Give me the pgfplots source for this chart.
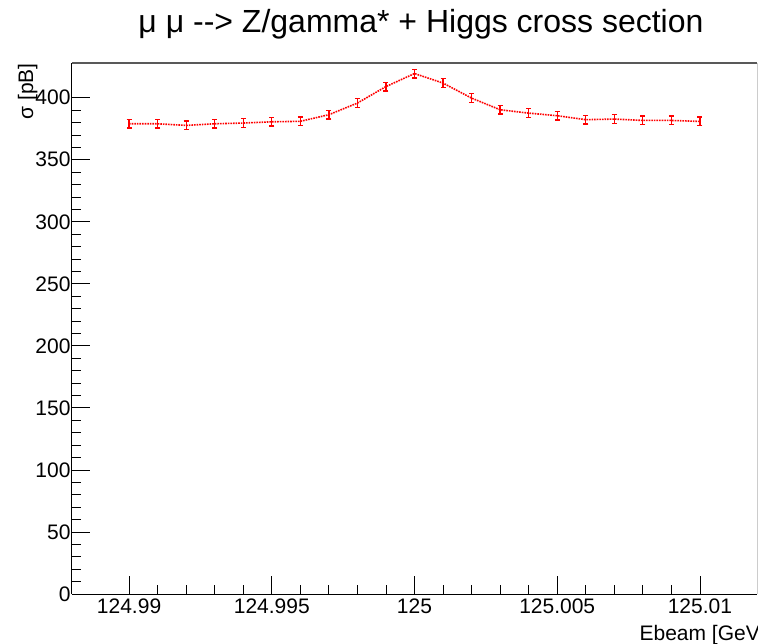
\documentclass[border=0pt]{standalone}
\usepackage{pgfplots}
\pgfplotsset{compat=1.18}
\usepackage{fontspec}
\setmainfont{Liberation Sans}
\begin{document}
\begin{tikzpicture}[x=1pt,y=1pt]
\useasboundingbox (0,0) rectangle (758,643);
\begin{axis}[
  at={(72pt,49pt)}, anchor=south west,
  scale only axis, width=685pt, height=531pt,
  xmin=-12, xmax=12, ymin=0, ymax=428,
  axis x line*=bottom, axis y line*=left,
  axis line style={black, line width=1pt},
  xtick={-10,-5,0,5,10},
  xticklabels={124.99,124.995,125,125.005,125.01},
  minor x tick num=4,
  ytick={0,50,100,150,200,250,300,350,400},
  minor y tick num=4,
  tick align=inside,
  major tick length=18pt, minor tick length=9pt,
  tick style={black, line width=0.8pt},
  /pgf/number format/assume math mode=true,
  ticklabel style={font=\fontsize{21}{24}\selectfont},
  xticklabel style={yshift=-1pt},
  yticklabel style={xshift=2pt},
  clip=false,
]
\addplot[red, densely dotted, line width=1.6pt,
  error bars/.cd, y dir=both, y explicit, error mark=|,
  error bar style={draw=red, solid, line width=1.3pt},
  error mark options={draw=red, solid, mark size=2.5pt, line width=1.3pt}]
  table[x=x, y=y, y error=e] {
x y e
-10 379 3.5
-9 379 3.5
-8 377.7 3.5
-7 379 3.5
-6 379.6 3.5
-5 380.6 3.5
-4 381 3.5
-3 386.3 3.5
-2 395.7 3.5
-1 409 3.5
0 419.5 3.5
1 411.8 3.5
2 399.7 3.5
3 390.3 3.5
4 387.6 3.5
5 385.5 3.5
6 382.3 3.5
7 382.8 3.5
8 381.7 3.5
9 381.7 3.5
10 380.9 3.5
};
\draw[gray!70!black, line width=1.6pt] (rel axis cs:0,1) -- (rel axis cs:1,1);
\draw[gray!40, line width=0.8pt] (rel axis cs:1,0) -- (rel axis cs:1,1);
\end{axis}
\node[anchor=base, font=\fontsize{32}{36}\selectfont] at (421,610) {μ μ {-}{-}> Z/gamma* + Higgs cross section};
\node[anchor=base east, inner sep=0pt, font=\fontsize{21}{24}\selectfont] at (760,3) {Ebeam [GeV};
\node[anchor=base east, rotate=90, inner sep=0pt, font=\fontsize{21}{24}\selectfont] at (33,580) {σ [pB]};
\end{tikzpicture}
\end{document}
